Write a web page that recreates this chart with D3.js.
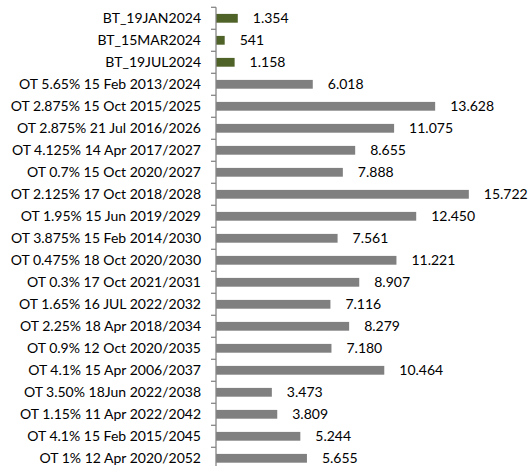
<!DOCTYPE html>
<html>
<head>
<meta charset="utf-8">
<script src="https://cdn.jsdelivr.net/npm/d3@7"></script>
<style>
  body { margin: 0; background: #fff; }
  svg { display: block; font-family: Lato, "Open Sans", sans-serif; }
</style>
</head>
<body>
<div id="chart"></div>
<script>
// Data
const bonds = [
  "BT_19JAN2024",
  "BT_15MAR2024",
  "BT_19JUL2024",
  "OT 5.65% 15 Feb 2013/2024",
  "OT 2.875% 15 Oct 2015/2025",
  "OT 2.875% 21 Jul 2016/2026",
  "OT 4.125% 14 Apr 2017/2027",
  "OT 0.7% 15 Oct 2020/2027",
  "OT 2.125% 17 Oct 2018/2028",
  "OT 1.95% 15 Jun 2019/2029",
  "OT 3.875% 15 Feb 2014/2030",
  "OT 0.475% 18 Oct 2020/2030",
  "OT 0.3% 17 Oct 2021/2031",
  "OT 1.65% 16 JUL 2022/2032",
  "OT 2.25% 18 Apr 2018/2034",
  "OT 0.9% 12 Oct 2020/2035",
  "OT 4.1% 15 Apr 2006/2037",
  "OT 3.50% 18Jun 2022/2038",
  "OT 1.15% 11 Apr 2022/2042",
  "OT 4.1% 15 Feb 2015/2045",
  "OT 1% 12 Apr 2020/2052"
];
const amounts = [1354, 541, 1158, 6018, 13628, 11075, 8655, 7888, 15722, 12450,
                 7561, 11221, 8907, 7116, 8279, 7180, 10464, 3473, 3809, 5244, 5655];
const billBonds = ["BT_19JAN2024", "BT_15MAR2024", "BT_19JUL2024"];

const data = bonds.map((name, i) => ({ name, value: amounts[i] }));

const width = 529;
const height = 466;
const axisX = 216;
const plotTop = 7.3;
const step = 22;
const plotBottom = plotTop + step * bonds.length;

const svg = d3.select("#chart")
  .append("svg")
  .attr("width", width)
  .attr("height", height);

const xScale = d3.scaleLinear()
  .domain([0, 16000])
  .range([axisX, axisX + 257.3]);

const yScale = d3.scaleBand()
  .domain(bonds)
  .range([plotTop, plotBottom])
  .paddingInner(0.6)
  .paddingOuter(0.3);

// bars
svg.selectAll("rect.bar")
  .data(data)
  .join("rect")
    .attr("class", "bar")
    .attr("x", xScale(0))
    .attr("y", d => yScale(d.name))
    .attr("width", d => xScale(d.value) - xScale(0))
    .attr("height", yScale.bandwidth())
    .attr("fill", d => billBonds.includes(d.name) ? "#4f6228" : "#808080");

// value labels, Excel style with dot as thousands separator
const fmt = v => d3.format(",")(v).replace(/,/g, ".");
svg.selectAll("text.value")
  .data(data)
  .join("text")
    .attr("class", "value")
    .attr("x", d => xScale(d.value) + 15)
    .attr("y", d => yScale(d.name) + yScale.bandwidth() / 2)
    .attr("dy", "0.36em")
    .style("font-size", "14px")
    .style("fill", "#000")
    .text(d => fmt(d.value));

// category axis: labels without ticks, ticks drawn between categories
const yAxis = svg.append("g")
  .attr("transform", `translate(${axisX}, 0)`)
  .call(d3.axisLeft(yScale).tickSize(0).tickPadding(15));
yAxis.select(".domain").remove();
yAxis.selectAll("text")
  .style("font-family", "Lato, 'Open Sans', sans-serif")
  .style("font-size", "14px")
  .style("fill", "#000");

const boundaries = bonds.map(b => yScale(b) - yScale.step() * 0.3);
boundaries.push(plotBottom);

svg.append("g")
  .selectAll("line")
  .data(boundaries)
  .join("line")
    .attr("x1", axisX - 5)
    .attr("x2", axisX)
    .attr("y1", d => d)
    .attr("y2", d => d)
    .attr("stroke", "#868686")
    .attr("stroke-width", 1.3);

svg.append("line")
  .attr("x1", axisX)
  .attr("x2", axisX)
  .attr("y1", plotTop)
  .attr("y2", plotBottom)
  .attr("stroke", "#868686")
  .attr("stroke-width", 1.3);
</script>
</body>
</html>
